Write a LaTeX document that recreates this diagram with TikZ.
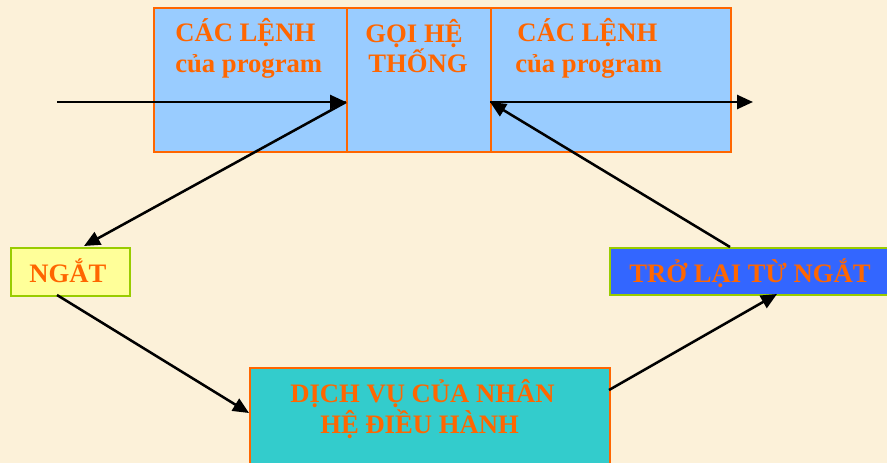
\documentclass[tikz,border=0pt]{standalone}
\usepackage{fontspec}
\setmainfont{Liberation Serif}
\usetikzlibrary{arrows.meta}
\definecolor{bg}{HTML}{FCF1D9}
\definecolor{txt}{HTML}{FF6600}
\definecolor{lblue}{HTML}{99CCFF}
\definecolor{ygreen}{HTML}{99CC00}
\definecolor{lyel}{HTML}{FFFF99}
\definecolor{dblue}{HTML}{3366FF}
\definecolor{teal2}{HTML}{33CCCC}
\tikzset{
  box/.style={draw=txt, line width=1.5pt, inner sep=0pt},
  gbox/.style={draw=ygreen, line width=1.8pt, inner sep=0pt},
  lbl/.style={text=txt, font=\fontsize{20}{22}\selectfont\bfseries, inner sep=0pt},
  conn/.style={line width=1.9pt, -{Triangle[length=12pt,width=10.5pt]}}
}
\begin{document}
\begin{tikzpicture}[x=0.75pt,y=-0.75pt]
\fill[bg] (0,0) rectangle (887,463);
\useasboundingbox (0,0) rectangle (887,463);
% top box parts
\node[box, fill=lblue, minimum width=193*0.75pt, minimum height=144*0.75pt, anchor=north west] (b1) at (153,7) {};
\node[box, fill=lblue, minimum width=144*0.75pt, minimum height=144*0.75pt, anchor=north west] (b2) at (346,7) {};
\node[box, fill=lblue, minimum width=240*0.75pt, minimum height=144*0.75pt, anchor=north west] (b3) at (490,7) {};
\node[lbl, anchor=base west] (t1a) at (175,42) {CÁC LỆNH};
\node[lbl, anchor=base west] (t1b) at (175,73) {của program};
\node[lbl, anchor=base] (t2a) at (414,43) {GỌI HỆ};
\node[lbl, anchor=base] (t2b) at (418,73) {THỐNG};
\node[lbl, anchor=base west] (t3a) at (517,42) {CÁC LỆNH};
\node[lbl, anchor=base west] (t3b) at (515,73) {của program};
% side boxes
\node[gbox, fill=lyel, minimum width=119*0.75pt, minimum height=48*0.75pt, anchor=north west] (ngat) at (10,247) {};
\node[lbl, anchor=base] (ngatt) at (68,282) {NGẮT};
\node[gbox, fill=dblue, minimum width=280*0.75pt, minimum height=47*0.75pt, anchor=north west] (tro) at (609,247) {};
\node[lbl, anchor=base] (trot) at (750,282) {TRỞ LẠI TỪ NGẮT};
\node[box, fill=teal2, minimum width=360*0.75pt, minimum height=97*0.75pt, anchor=north west] (dv) at (249,367) {};
\node[lbl, anchor=base west] (dva) at (290,402) {DỊCH VỤ CỦA NHÂN};
\node[lbl, anchor=base west] (dvb) at (320,433) {HỆ ĐIỀU HÀNH};
% connectors
\coordinate (in) at (57,102);
\coordinate (out) at (753,102);
\coordinate (b2w) at (346,102);
\coordinate (b2e) at (490,102);
\coordinate (ngtop) at (84,246);
\coordinate (ngbot) at (57,295);
\coordinate (dvw) at (249,413);
\coordinate (dve) at (609,390);
\coordinate (trob) at (777,294);
\coordinate (trot0) at (730,247);
\draw[conn] (in) -- (b2w);
\draw[conn] (b2e) -- (out);
\draw[conn] (b2w) -- (ngtop);
\draw[conn] (ngbot) -- (dvw);
\draw[conn] (dve) -- (trob);
\draw[conn] (trot0) -- (b2e);
\end{tikzpicture}
\end{document}
